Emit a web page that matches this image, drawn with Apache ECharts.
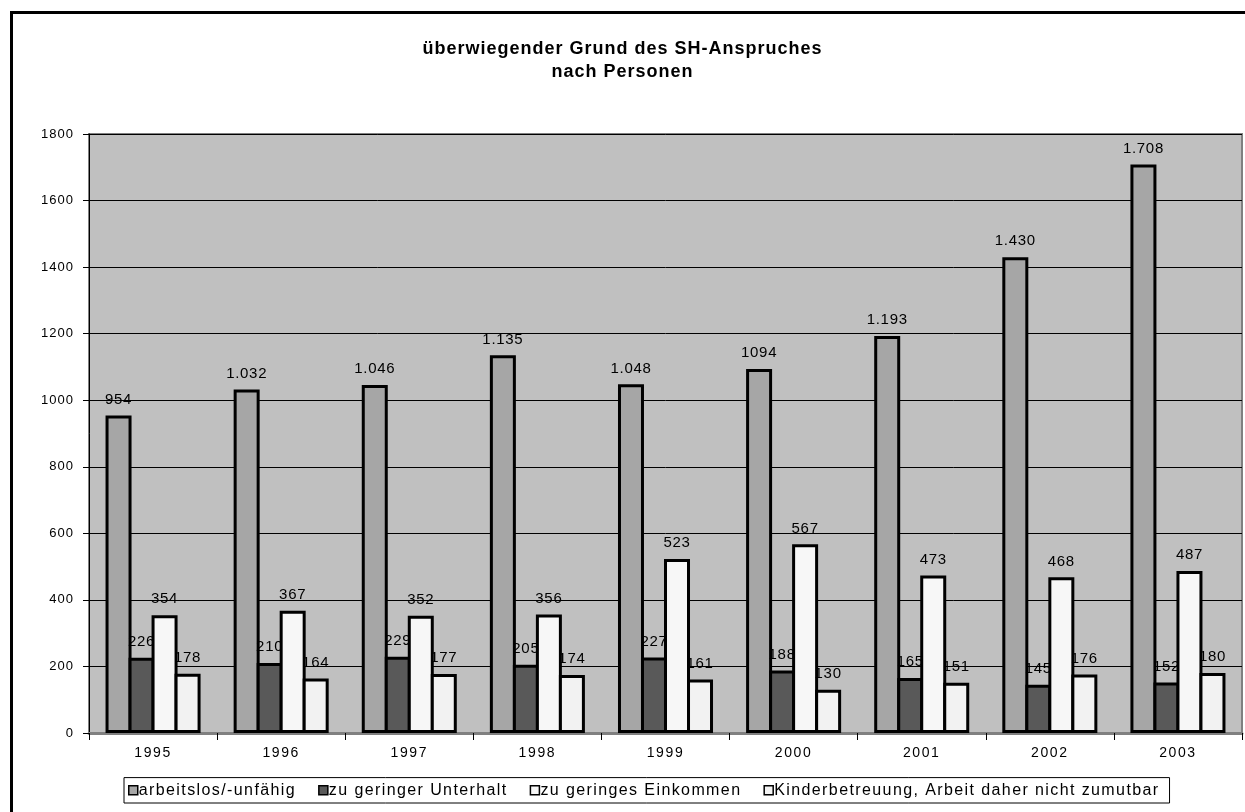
<!DOCTYPE html>
<html>
<head>
<meta charset="utf-8">
<style>
  html, body { margin: 0; padding: 0; background: #ffffff; }
  #chart { width: 1245px; height: 812px; }
</style>
<script src="https://cdn.jsdelivr.net/npm/echarts@6/dist/echarts.min.js"></script>
</head>
<body>
<div id="chart"></div>
<script>
// Jahre (Kategorien)
const years = ['1995', '1996', '1997', '1998', '1999', '2000', '2001', '2002', '2003'];

// Personen nach überwiegendem Grund des SH-Anspruches
const arbeitslos = [954, 1032, 1046, 1135, 1048, 1094, 1193, 1430, 1708];
const unterhalt = [226, 210, 229, 205, 227, 188, 165, 145, 152];
const einkommen = [354, 367, 352, 356, 523, 567, 473, 468, 487];
const kinder = [178, 164, 177, 174, 161, 130, 151, 176, 180];

// Beschriftung ohne Tausenderpunkt (je Jahr, Reihe "arbeitslos")
const ohnePunkt = [false, false, false, false, false, true, false, false, false];

const seriesNames = [
  'arbeitslos/-unfähig',
  'zu geringer Unterhalt',
  'zu geringes Einkommen',
  'Kinderbetreuung, Arbeit daher nicht zumutbar'
];

const FONT = '"Liberation Sans", Arial, sans-serif';

// Gesperrte Schrift: Zeichenabstand je Schriftgröße (Messen und Zeichnen gleich)
const SPERRUNG = { 18: 1, 16: 1.4, 15: 0.7, 14: 1.6, 13: 1 };
(function () {
  const proto = CanvasRenderingContext2D.prototype;
  function setSpacing(ctx) {
    const m = /(\d+(?:\.\d+)?)px/.exec(ctx.font || '');
    const size = m ? Math.round(parseFloat(m[1])) : 0;
    const s = SPERRUNG[size] || 0;
    if ('letterSpacing' in ctx) ctx.letterSpacing = s + 'px';
  }
  const origFill = proto.fillText;
  const origStroke = proto.strokeText;
  const origMeasure = proto.measureText;
  proto.fillText = function () { setSpacing(this); return origFill.apply(this, arguments); };
  proto.strokeText = function () { setSpacing(this); return origStroke.apply(this, arguments); };
  proto.measureText = function () { setSpacing(this); return origMeasure.apply(this, arguments); };
})();

function gruppiert(v) {
  return String(v).replace(/\B(?=(\d{3})+(?!\d))/g, '.');
}

function barSeries(name, data, color, plainFlags) {
  return {
    name: name,
    type: 'bar',
    data: data,
    barWidth: 26,
    barGap: '-11.5%',
    itemStyle: { color: color, borderColor: '#000000', borderWidth: 3 },
    label: {
      show: true,
      position: 'top',
      distance: 8,
      color: '#000000',
      fontFamily: FONT,
      fontSize: 15,
      formatter: function (p) {
        if (plainFlags && plainFlags[p.dataIndex]) return String(p.value);
        return gruppiert(p.value);
      }
    },
    emphasis: { disabled: true }
  };
}

const chart = echarts.init(document.getElementById('chart'), null, { renderer: 'canvas' });

chart.setOption({
  animation: false,
  backgroundColor: '#ffffff',
  title: {
    text: 'überwiegender Grund des SH-Anspruches\nnach Personen',
    left: 'center',
    top: 33,
    textStyle: {
      fontFamily: FONT,
      fontWeight: 'bold',
      fontSize: 18,
      lineHeight: 23,
      color: '#000000'
    }
  },
  graphic: [
    {
      type: 'rect',
      shape: { x: 11.5, y: 12.5, width: 1300, height: 900 },
      style: { fill: 'none', stroke: '#000000', lineWidth: 3 },
      silent: true,
      z: 100
    }
  ],
  legend: {
    data: seriesNames,
    left: 124,
    bottom: 9,
    orient: 'horizontal',
    icon: 'rect',
    itemWidth: 9,
    itemHeight: 9,
    itemGap: 22,
    padding: [4, 10, 4, 4],
    borderColor: '#000000',
    borderWidth: 1,
    backgroundColor: '#ffffff',
    itemStyle: { borderColor: '#000000', borderWidth: 1.5 },
    textStyle: {
      fontFamily: FONT,
      fontSize: 16,
      color: '#000000',
      padding: [0, 0, 0, -4]
    },
    selectedMode: false
  },
  grid: {
    left: 89,
    right: 3,
    top: 134,
    bottom: 79,
    show: true,
    backgroundColor: '#c0c0c0',
    borderColor: '#808080',
    borderWidth: 2
  },
  xAxis: {
    type: 'category',
    data: years,
    axisLine: { show: true, lineStyle: { color: '#808080', width: 3 } },
    axisTick: { show: true, alignWithLabel: false, length: 7, lineStyle: { color: '#000000', width: 1 } },
    axisLabel: {
      fontFamily: FONT,
      fontSize: 14,
      color: '#000000',
      margin: 12
    },
    splitLine: { show: false }
  },
  yAxis: {
    type: 'value',
    min: 0,
    max: 1800,
    interval: 200,
    axisLine: { show: true, lineStyle: { color: '#000000', width: 1 } },
    axisTick: { show: true, length: 6, lineStyle: { color: '#000000', width: 1 } },
    axisLabel: {
      fontFamily: FONT,
      fontSize: 13,
      color: '#000000',
      margin: 15,
      formatter: function (v) { return String(v); }
    },
    splitLine: { show: true, lineStyle: { color: '#000000', width: 1 } }
  },
  series: [
    barSeries(seriesNames[0], arbeitslos, '#a6a6a6', ohnePunkt),
    barSeries(seriesNames[1], unterhalt, '#595959', null),
    barSeries(seriesNames[2], einkommen, '#f7f7f7', null),
    barSeries(seriesNames[3], kinder, '#f2f2f2', null)
  ]
});
</script>
</body>
</html>
